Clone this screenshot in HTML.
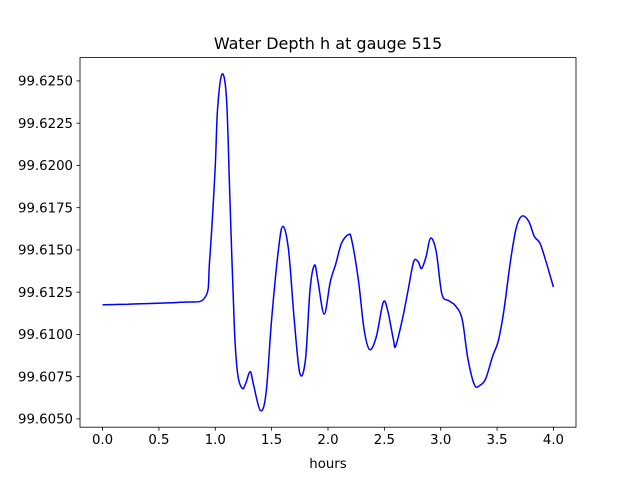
<!DOCTYPE html>
<html><head><meta charset="utf-8"><style>
body{margin:0;background:#fff;}
svg text{font-family:"DejaVu Sans","Liberation Sans",sans-serif;fill:#000;}
</style></head><body>
<svg id="chart" width="640" height="480" viewBox="0 0 640 480" xmlns="http://www.w3.org/2000/svg">
<rect x="0" y="0" width="640" height="480" fill="#fff"/>
<text x="328" y="49" text-anchor="middle" font-size="16">Water Depth h at gauge 515</text>
<g id="plot"></g>
<text x="328" y="468" text-anchor="middle" font-size="13.3">hours</text>
</svg>
<script>
const xTicks=[0,0.5,1.0,1.5,2.0,2.5,3.0,3.5,4.0];
const xTickLabels=["0.0","0.5","1.0","1.5","2.0","2.5","3.0","3.5","4.0"];
const yTicks=[99.605,99.6075,99.61,99.6125,99.615,99.6175,99.62,99.6225,99.625];
const yTickLabels=["99.6050","99.6075","99.6100","99.6125","99.6150","99.6175","99.6200","99.6225","99.6250"];
const hours=[0,0.69,0.91,0.95,0.998,1.02,1.06,1.10,1.13,1.17,1.20,1.24,1.27,1.31,1.34,1.40,1.45,1.50,1.56,1.60,1.65,1.70,1.75,1.80,1.84,1.88,1.91,1.966,2.02,2.07,2.12,2.18,2.21,2.27,2.32,2.37,2.43,2.49,2.53,2.58,2.60,2.66,2.71,2.76,2.80,2.83,2.87,2.91,2.96,3.01,3.07,3.13,3.19,3.24,3.30,3.35,3.40,3.46,3.51,3.56,3.62,3.67,3.72,3.78,3.83,3.88,3.93,4.0];
const depth=[99.61175,99.6119,99.6122,99.6144,99.6197,99.6233,99.6254,99.6239,99.6180,99.6103,99.6076,99.6068,99.6071,99.6078,99.6070,99.6055,99.6065,99.6109,99.6150,99.6164,99.6150,99.6109,99.6077,99.6085,99.6126,99.6141,99.6132,99.6112,99.6131,99.6142,99.6154,99.6159,99.6156,99.6132,99.6103,99.6091,99.6099,99.6119,99.6114,99.6097,99.6093,99.6109,99.6126,99.6143,99.6143,99.6139,99.6146,99.6157,99.6149,99.6124,99.6120,99.6117,99.6109,99.6086,99.6070,99.6070,99.6074,99.6087,99.6096,99.6114,99.6144,99.6163,99.6170,99.6167,99.6158,99.6154,99.6144,99.6128];
const L=80,R=576,T=57.6,B=427.2;
const xMin=-0.2,xMax=4.2,yMin=99.60451,yMax=99.62638;
const sx=v=>L+(v-xMin)/(xMax-xMin)*(R-L);
const sy=v=>B-(v-yMin)/(yMax-yMin)*(B-T);
const NS="http://www.w3.org/2000/svg";
const g=document.getElementById('plot');
function mk(tag,attrs){const e=document.createElementNS(NS,tag);for(const k in attrs)e.setAttribute(k,attrs[k]);g.appendChild(e);return e;}
// line (catmull-rom smoothing)
const pts=hours.map((h,i)=>[sx(h),sy(depth[i])]);
let d="M"+pts[0][0].toFixed(2)+","+pts[0][1].toFixed(2);
for(let i=0;i<pts.length-1;i++){
 const p0=pts[Math.max(0,i-1)],p1=pts[i],p2=pts[i+1],p3=pts[Math.min(pts.length-1,i+2)];
 const c1=[p1[0]+(p2[0]-p0[0])/6,p1[1]+(p2[1]-p0[1])/6];
 const c2=[p2[0]-(p3[0]-p1[0])/6,p2[1]-(p3[1]-p1[1])/6];
 d+=" C"+c1.join(",")+" "+c2.join(",")+" "+p2.join(",");
}
const line=mk('path',{d:d,fill:'none',stroke:'#0000ff','stroke-width':1.5,'stroke-linejoin':'round'});


const frame=mk('rect',{x:L,y:T,width:R-L,height:B-T,fill:'none',stroke:'#000','stroke-width':0.8});


xTicks.forEach((v,i)=>{
 const x=sx(v);
 const t=mk('line',{x1:x,x2:x,y1:B,y2:B+3.5,stroke:'#000','stroke-width':0.8});
 
 
 const tx=mk('text',{x:x,y:B+17,'text-anchor':'middle','font-size':13.3});
 tx.textContent=xTickLabels[i];
 
 
});
yTicks.forEach((v,i)=>{
 const y=sy(v);
 const t=mk('line',{x1:L-3.5,x2:L,y1:y,y2:y,stroke:'#000','stroke-width':0.8});
 
 
 const tx=mk('text',{x:L-7,y:y+4.8,'text-anchor':'end','font-size':13.3});
 tx.textContent=yTickLabels[i];
 
 
});
</script>
</body></html>
